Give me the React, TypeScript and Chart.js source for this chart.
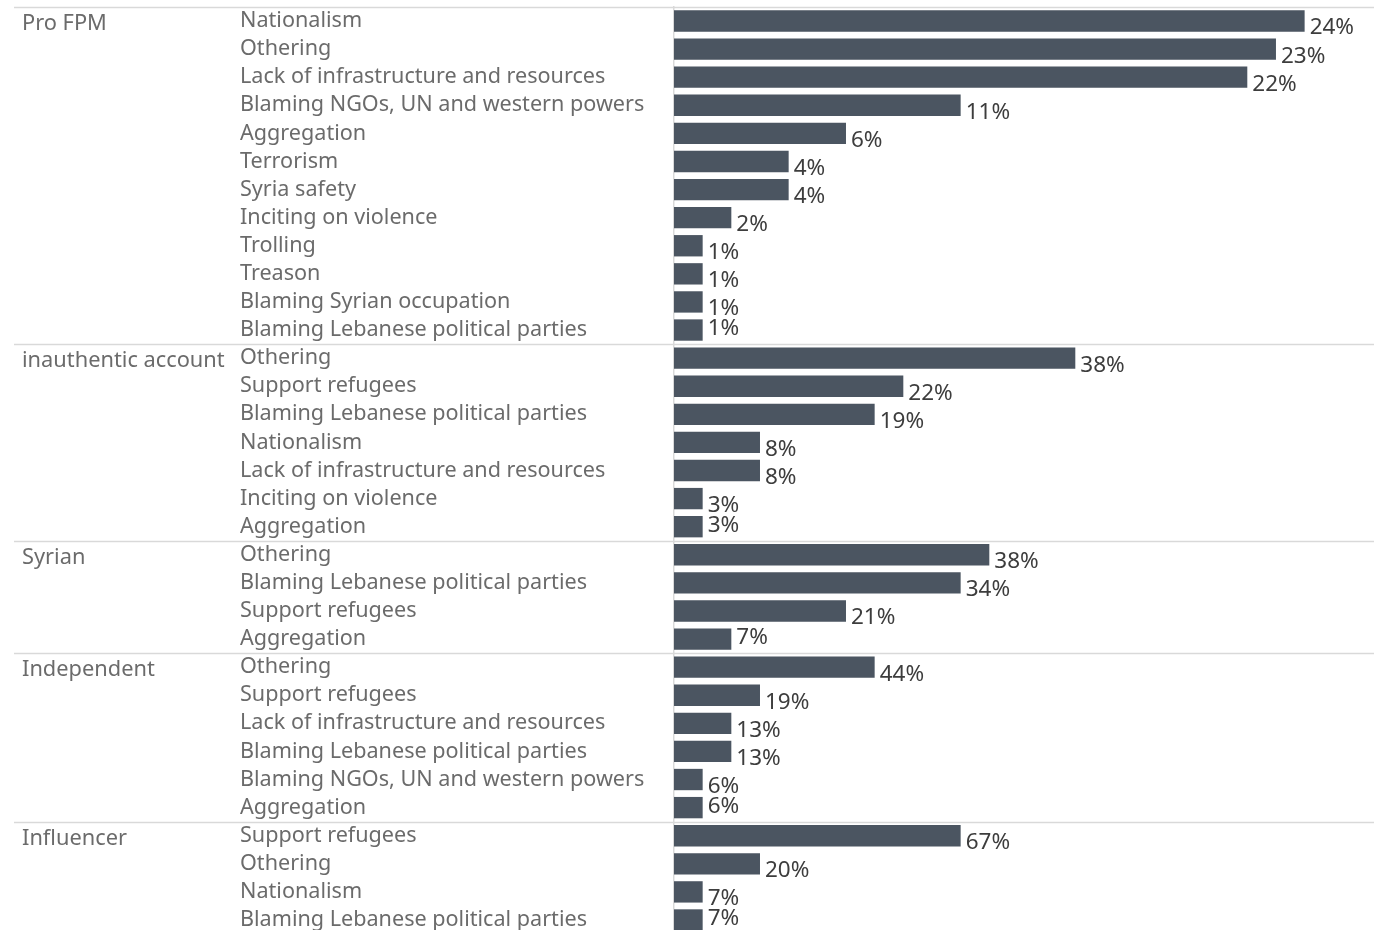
import React, { useEffect, useRef } from "react";
import { Chart, registerables } from "chart.js";

Chart.register(...registerables);

// Groups (author type)
const groups = ["Pro FPM", "inauthentic account", "Syrian", "Independent", "Influencer"];

// Themes per group
const proFpmThemes = [
  "Nationalism",
  "Othering",
  "Lack of infrastructure and resources",
  "Blaming NGOs, UN and western powers",
  "Aggregation",
  "Terrorism",
  "Syria safety",
  "Inciting on violence",
  "Trolling",
  "Treason",
  "Blaming Syrian occupation",
  "Blaming Lebanese political parties",
];
const inauthenticThemes = [
  "Othering",
  "Support refugees",
  "Blaming Lebanese political parties",
  "Nationalism",
  "Lack of infrastructure and resources",
  "Inciting on violence",
  "Aggregation",
];
const syrianThemes = ["Othering", "Blaming Lebanese political parties", "Support refugees", "Aggregation"];
const independentThemes = [
  "Othering",
  "Support refugees",
  "Lack of infrastructure and resources",
  "Blaming Lebanese political parties",
  "Blaming NGOs, UN and western powers",
  "Aggregation",
];
const influencerThemes = ["Support refugees", "Othering", "Nationalism", "Blaming Lebanese political parties"];

// Bar lengths (estimated counts, shared axis)
const proFpmCounts = [22, 21, 20, 10, 6, 4, 4, 2, 1, 1, 1, 1];
const inauthenticCounts = [14, 8, 7, 3, 3, 1, 1];
const syrianCounts = [11, 10, 6, 2];
const independentCounts = [7, 3, 2, 2, 1, 1];
const influencerCounts = [10, 3, 1, 1];

// Percent labels shown next to the bars
const proFpmPct = ["24%", "23%", "22%", "11%", "6%", "4%", "4%", "2%", "1%", "1%", "1%", "1%"];
const inauthenticPct = ["38%", "22%", "19%", "8%", "8%", "3%", "3%"];
const syrianPct = ["38%", "34%", "21%", "7%"];
const independentPct = ["44%", "19%", "13%", "13%", "6%", "6%"];
const influencerPct = ["67%", "20%", "7%", "7%"];

const groupThemes = [proFpmThemes, inauthenticThemes, syrianThemes, independentThemes, influencerThemes];
const groupCounts = [proFpmCounts, inauthenticCounts, syrianCounts, independentCounts, influencerCounts];
const groupPct = [proFpmPct, inauthenticPct, syrianPct, independentPct, influencerPct];

const AXIS_MAX = 24.42;

export default function App() {
  const ref = useRef<HTMLCanvasElement | null>(null);

  useEffect(() => {
    if (!ref.current) return;
    const labels: string[] = [];
    const values: number[] = [];
    const pcts: string[] = [];
    const groupStart: number[] = [];
    const isLast: boolean[] = [];
    groupThemes.forEach((themes, g) => {
      groupStart.push(labels.length);
      themes.forEach((t, i) => {
        labels.push(t);
        values.push(groupCounts[g][i]);
        pcts.push(groupPct[g][i]);
        isLast.push(i === themes.length - 1);
      });
    });

    const FONT = "'Noto Sans', sans-serif";

    const overlay = {
      id: "overlay",
      afterDatasetsDraw(chart: any) {
        const ctx = chart.ctx;
        const y = chart.scales.y;
        const meta = chart.getDatasetMeta(0);
        const pitch = Math.abs(y.getPixelForValue(1) - y.getPixelForValue(0));
        ctx.save();
        // separators
        ctx.strokeStyle = "#d9d9d9";
        ctx.lineWidth = 1.5;
        groupStart.forEach((s) => {
          const yy = Math.round(y.getPixelForValue(s) - pitch / 2) + 0.5;
          ctx.beginPath();
          ctx.moveTo(14, yy);
          ctx.lineTo(chart.width, yy);
          ctx.stroke();
        });
        // group labels
        ctx.fillStyle = "#6b6b6b";
        ctx.font = `21.8px ${FONT}`;
        ctx.textAlign = "left";
        ctx.textBaseline = "middle";
        groups.forEach((name, g) => {
          const yy = y.getPixelForValue(groupStart[g]) + 3;
          ctx.fillText(name, 22, yy);
        });
        // value labels
        ctx.fillStyle = "#3d3d3d";
        ctx.font = `22.5px ${FONT}`;
        meta.data.forEach((bar: any, i: number) => {
          const off = isLast[i] ? -1 : 7;
          ctx.fillText(pcts[i], bar.x + 5, bar.y + off);
        });
        ctx.restore();
      },
    };

    const chart = new Chart(ref.current, {
      type: "bar",
      data: {
        labels,
        datasets: [
          {
            data: values,
            backgroundColor: "#4b5561",
            barPercentage: 0.76,
            categoryPercentage: 1,
          },
        ],
      },
      options: {
        indexAxis: "y",
        animation: false,
        responsive: false,
        layout: { padding: { left: 240, top: 0, right: 0, bottom: 0 } },
        plugins: { legend: { display: false }, tooltip: { enabled: false } },
        scales: {
          x: {
            min: 0,
            max: AXIS_MAX,
            display: false,
          },
          y: {
            type: "category",
            grid: { display: false, drawTicks: false },
            border: { display: true, color: "#d9d9d9", width: 1.5 },
            ticks: {
              autoSkip: false,
              crossAlign: "far",
              padding: 0,
              color: "#6b6b6b",
              font: { family: FONT, size: 21.6 },
            },
            afterFit(scale: any) {
              scale.width = 434;
            },
          },
        },
      },
      plugins: [overlay],
    } as any);

    return () => chart.destroy();
  }, []);

  return (
    <div
      style={{
        position: "absolute",
        left: 0,
        top: 0,
        width: 1374,
        height: 930,
        overflow: "hidden",
        background: "#ffffff",
      }}
    >
      <canvas
        ref={ref}
        width={1374}
        height={953}
        style={{ display: "block", position: "absolute", left: 0, top: -6 }}
      />
    </div>
  );
}
